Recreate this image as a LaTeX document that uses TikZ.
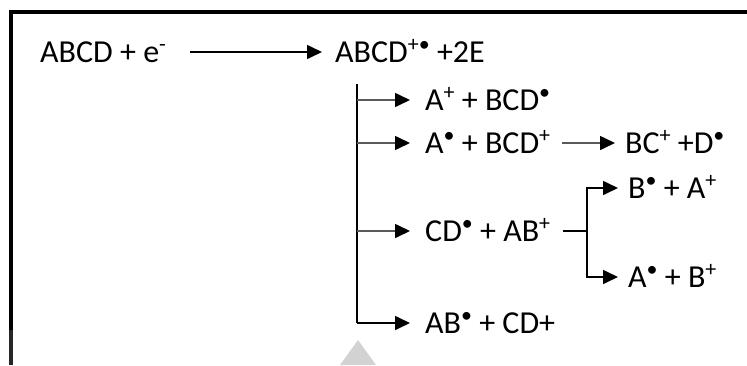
\documentclass[tikz,border=0pt]{standalone}
\usepackage{fontspec}
\setmainfont{Carlito}
\usetikzlibrary{arrows.meta}

\newcommand{\up}[1]{\raisebox{0.33em}{\fontsize{22}{24}\selectfont #1}}
\newcommand{\rad}{\up{\textbullet}}

\tikzset{
  arr/.style={-{Triangle[length=15pt,width=14pt,color=black]}, line width=1.6pt},
  grarr/.style={arr, draw=black!65},
  chem/.style={anchor=base west, inner sep=0pt, font=\fontsize{32}{38}\selectfont},
}

\begin{document}
\begin{tikzpicture}[x=1pt,y=-1pt]

\useasboundingbox (0,0) rectangle (747,365);

% frame
\fill (9,10) rectangle (747,14);
\fill (9,10) rectangle (13,330);
\fill[black!85] (9,330) rectangle (13,365);
\fill[gray!35] (340,365) -- (358,340) -- (376,365) -- cycle;

% first step
\coordinate (s0) at (190,52);
\coordinate (e0) at (322,52);
\node[chem] (r) at (40,62) {ABCD + e\up{-}};
\node[chem] (p) at (335,62) {ABCD\up{+\textbullet} +2E};
\draw[arr] (s0) -- (e0);

% trunk
\coordinate (top) at (357,84);
\coordinate (bot) at (357,323);
\draw[line width=1.6pt] (top) -- (bot);

\foreach \n/\y in {1/100,2/143,3/231,4/323}
    \coordinate (b\n) at (410,\y);

\node[chem] (p1) at ([shift={(15,10)}]b1) {A\up{+} + BCD\rad};
\node[chem] (p2) at ([shift={(15,10)}]b2) {A\rad{} + BCD\up{+}};
\node[chem] (p3) at ([shift={(15,10)}]b3) {CD\rad{} + AB\up{+}};
\node[chem] (p4) at ([shift={(15,10)}]b4) {AB\rad{} + CD+};

\foreach \n in {1,2,3}
    \draw[grarr] (b\n -| top) -- (b\n);
\draw[arr] (bot) -- (b4);

% second steps
\coordinate (c0) at (562,143);
\coordinate (c1) at (615,143);
\node[chem] (q1) at ([shift={(10,10)}]c1) {BC\up{+} +D\rad};
\draw[grarr] (c0) -- (c1);

\coordinate (d0) at (563,231);
\coordinate (dj) at (587,231);
\coordinate (d1) at (618,188);
\coordinate (d2) at (618,277);
\node[chem] (q2) at ([shift={(10,10)}]d1) {B\rad{} + A\up{+}};
\node[chem] (q3) at ([shift={(10,10)}]d2) {A\rad{} + B\up{+}};
\draw[line width=1.6pt] (d0) -- (dj);
\draw[arr] (dj) |- (d1);
\draw[arr] (dj) |- (d2);

\end{tikzpicture}
\end{document}
